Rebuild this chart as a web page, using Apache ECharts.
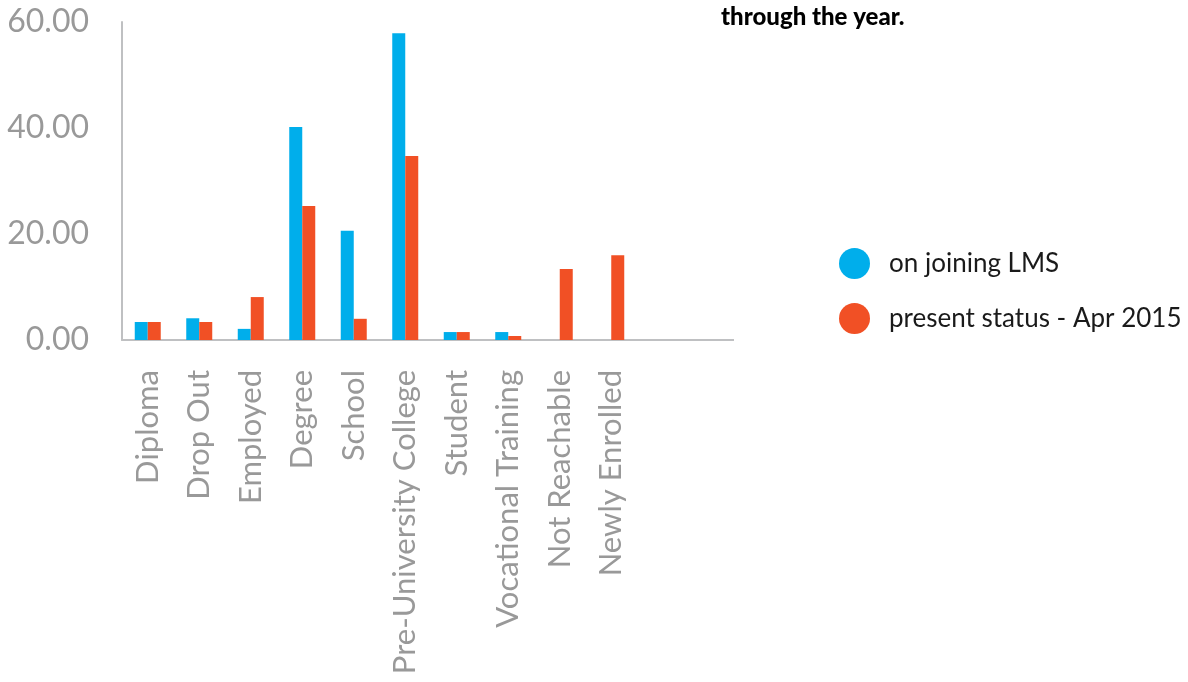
<!DOCTYPE html>
<html>
<head>
<meta charset="utf-8">
<script src="https://cdn.jsdelivr.net/npm/echarts@6/dist/echarts.min.js"></script>
<style>html,body{margin:0;padding:0;background:#fff}#c{width:1188px;height:682px}</style>
</head>
<body>
<div id="c"></div>
<script>
const categories = ['Diploma','Drop Out','Employed','Degree','School','Pre-University College','Student','Vocational Training','Not Reachable','Newly Enrolled'];
const onJoining = [3.4, 4.1, 2.1, 40.2, 20.6, 57.9, 1.5, 1.5, 0, 0];
const presentStatus = [3.4, 3.4, 8.1, 25.3, 4.0, 34.7, 1.5, 0.75, 13.4, 16.0];
const seriesNames = ['on joining LMS', 'present status - Apr 2015'];
const yTicks = {min: 0, max: 60, interval: 20};

const chart = echarts.init(document.getElementById('c'));
const font = 'Lato, "Noto Sans", sans-serif';
chart.setOption({
  animation: false,
  textStyle: {fontFamily: font},
  title: {
    text: 'through the year.',
    left: 716, top: 0,
    textStyle: {fontFamily: font, fontSize: 24, fontWeight: 900, color: '#000'}
  },
  legend: {
    orient: 'vertical',
    left: 834, top: 243,
    icon: 'circle',
    itemWidth: 31, itemHeight: 31,
    itemGap: 24,
    textStyle: {fontFamily: font, fontSize: 26, color: '#1a1a1a', padding: [0,0,0,14]},
    data: seriesNames
  },
  grid: {left: 122, top: 22, width: 515, bottom: 342, containLabel: false},
  xAxis: {
    type: 'category',
    data: categories,
    axisLine: {lineStyle: {color: '#bfc0c2', width: 2}},
    axisTick: {show: false},
    axisLabel: {rotate: 90, margin: 30, fontSize: 31, color: '#999', fontFamily: font, interval: 0}
  },
  yAxis: {
    type: 'value',
    min: yTicks.min, max: yTicks.max, interval: yTicks.interval,
    axisLine: {show: true, lineStyle: {color: '#bfc0c2', width: 2}},
    axisTick: {show: false},
    splitLine: {show: false},
    axisLabel: {margin: 33, fontSize: 32, color: '#999', fontFamily: font, padding: [4,0,0,0], formatter: v => v.toFixed(2)}
  },
  graphic: [{
    type: 'line',
    shape: {x1: 637, y1: 340, x2: 734, y2: 340},
    style: {stroke: '#bfc0c2', lineWidth: 2}
  }],
  series: [
    {name: seriesNames[0], type: 'bar', data: onJoining, barWidth: 13, barGap: '0%', itemStyle: {color: '#00AEEB'}},
    {name: seriesNames[1], type: 'bar', data: presentStatus, barWidth: 13, barGap: '0%', itemStyle: {color: '#F15025'}}
  ]
});
</script>
</body>
</html>
